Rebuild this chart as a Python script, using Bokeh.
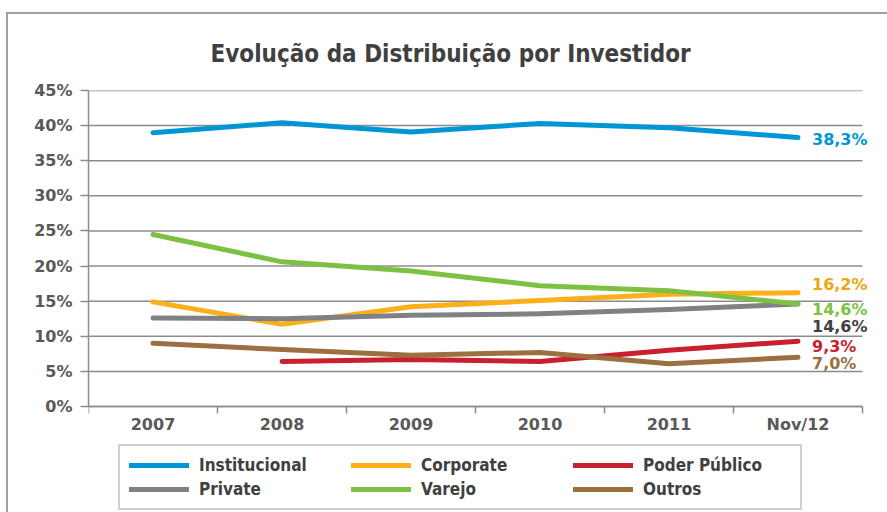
import numpy as np
from bokeh.plotting import figure
from bokeh.models import (Range1d, FixedTicker, PrintfTickFormatter, Legend, LegendItem,
                          ColumnDataSource, LabelSet)
from bokeh.core.properties import value
from bokeh.embed import file_html
from bokeh.resources import INLINE

# ---- data ----
periods = ["2007", "2008", "2009", "2010", "2011", "Nov/12"]
institucional = [39.0, 40.4, 39.1, 40.3, 39.7, 38.3]
corporate = [14.9, 11.7, 14.2, 15.1, 16.0, 16.2]
poder_publico = [np.nan, 6.4, 6.7, 6.4, 8.0, 9.3]
private = [12.6, 12.5, 13.0, 13.2, 13.8, 14.6]
varejo = [24.5, 20.6, 19.3, 17.2, 16.5, 14.6]
outros = [9.0, 8.1, 7.3, 7.7, 6.1, 7.0]
series_names = ["Institucional", "Corporate", "Poder Público", "Private", "Varejo", "Outros"]
end_labels = ["38,3%", "16,2%", "9,3%", "14,6%", "14,6%", "7,0%"]
y_ticks = [0, 5, 10, 15, 20, 25, 30, 35, 40, 45]
title_text = "Evolução da Distribuição por Investidor"

# ---- styles ----
colors = ["#0096d6", "#fbb01a", "#c8202f", "#808184", "#7dc143", "#9b6f3f"]
label_colors = ["#0096d6", "#f0a513", "#c8202f", "#404040", "#7dc143", "#9b6f3f"]
label_dy = [-2, 8, -5, -23, -6, -6]
TICK_FONT = "DejaVu Sans"
COND_FONT = "Liberation Sans Narrow, DejaVu Sans Condensed, sans-serif"
GRID = "#8c8c8c"
TXT = "#595959"

n = len(periods)
ymax = y_ticks[-1]
xs = [i + 0.5 for i in range(n)]
FW_DATA = 774   # pixels spanned by the category slots
FW = 792        # frame width incl. room for end labels
PLOT_H = 316    # pixels from 0% to 45%
FH = 422        # frame height incl. room below for axis labels + legend

p = figure(width=879, height=498, output_backend="svg", toolbar_location=None,
           x_range=Range1d(0, n * FW / FW_DATA),
           y_range=Range1d(-ymax * (FH - PLOT_H) / PLOT_H, ymax),
           min_border_left=80, min_border_right=7, min_border_top=76, min_border_bottom=0,
           frame_width=FW, frame_height=FH, title=title_text)
p.styles = {"margin-left": "6px", "margin-top": "12px",
            "border-left": "2px solid #a0a0a0", "border-top": "2px solid #a0a0a0"}
p.outline_line_color = None
p.background_fill_color = "white"
p.border_fill_color = "white"

p.title.align = "left"
p.title.offset = 122
p.title.standoff = 45
p.title.text_font = COND_FONT
p.title.text_font_size = "24px"
p.title.text_font_style = "bold"
p.title.text_color = "#404040"

# horizontal grid lines spanning the category slots only
p.segment(x0=0, x1=n, y0=y_ticks, y1=y_ticks, line_color=GRID, line_width=1.5)

all_series = [institucional, corporate, poder_publico, private, varejo, outros]
renderers = []
for vals, c in zip(all_series, colors):
    r = p.line(xs, vals, line_color=c, line_width=5, line_cap="round", line_join="round")
    renderers.append(r)

# axes
yax = p.yaxis[0]
yax.bounds = (0, ymax)
yax.ticker = FixedTicker(ticks=y_ticks)
yax.formatter = PrintfTickFormatter(format="%d%%")
yax.axis_line_color = GRID
yax.axis_line_width = 1.5
yax.major_tick_line_color = GRID
yax.major_tick_line_width = 1.5
yax.major_tick_out = 8
yax.major_tick_in = 0
yax.minor_tick_line_color = None
yax.major_label_text_font = TICK_FONT
yax.major_label_text_font_style = "bold"
yax.major_label_text_font_size = "16px"
yax.major_label_text_color = TXT
yax.major_label_standoff = 8

xax = p.xaxis[0]
xax.fixed_location = 0
xax.bounds = (0, n)
xax.ticker = FixedTicker(ticks=xs, minor_ticks=list(range(n + 1)))
xax.major_label_overrides = {x: lab for x, lab in zip(xs, periods)}
xax.axis_line_color = GRID
xax.axis_line_width = 1.5
xax.major_tick_line_color = None
xax.minor_tick_line_color = GRID
xax.minor_tick_line_width = 1.5
xax.minor_tick_out = 7
xax.minor_tick_in = 0
xax.major_label_text_font = TICK_FONT
xax.major_label_text_font_style = "bold"
xax.major_label_text_font_size = "16px"
xax.major_label_text_color = TXT
xax.major_label_standoff = 1

p.xgrid.grid_line_color = None
p.ygrid.grid_line_color = None

# end labels
last_vals = [s[-1] for s in all_series]
src = ColumnDataSource(dict(x=[xs[-1]] * len(end_labels), y=last_vals, text=end_labels,
                            color=label_colors, dy=label_dy))
p.add_layout(LabelSet(x="x", y="y", text="text", source=src, x_offset=14, y_offset="dy",
                      text_color="color", text_font=value(TICK_FONT), text_font_style="bold",
                      text_font_size="16px", text_baseline="middle", text_align="left"))

# legend
items = [LegendItem(label=nm, renderers=[r]) for nm, r in zip(series_names, renderers)]
legend = Legend(items=items, location=(30, 2), orientation="horizontal", ncols=3,
                glyph_width=60, glyph_height=20, label_width=148, label_standoff=10,
                label_height=20, spacing=4, padding=9, margin=0,
                label_text_font=COND_FONT, label_text_font_style="bold",
                label_text_font_size="17px", label_text_color="#404040",
                border_line_color="#a0a0a0", border_line_width=2,
                background_fill_color="white", background_fill_alpha=1)
p.add_layout(legend, "center")

open("out.html", "w").write(file_html(p, INLINE))
